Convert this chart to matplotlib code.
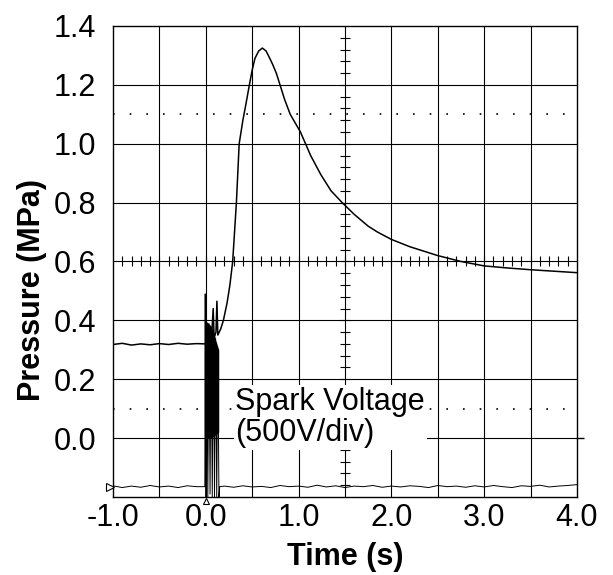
import numpy as np
import matplotlib
matplotlib.use("Agg")
import matplotlib.pyplot as plt

plt.rcParams['font.family'] = ['Liberation Sans', 'DejaVu Sans']

# pressure trace (MPa)
pres_t = [-1.0, -0.9, -0.8, -0.7, -0.6, -0.5, -0.4, -0.3, -0.2, -0.1, 0.0,
          0.03, 0.06, 0.08, 0.09, 0.11, 0.12, 0.13, 0.16, 0.19, 0.23, 0.26,
          0.29, 0.31, 0.33, 0.36, 0.40, 0.43, 0.47, 0.50, 0.53, 0.57, 0.61,
          0.65, 0.69, 0.72, 0.76, 0.80, 0.85, 0.91, 1.02, 1.13, 1.24, 1.35,
          1.47, 1.60, 1.75, 1.85, 2.0, 2.2, 2.5, 2.75, 3.0, 3.25, 3.5, 3.75, 4.0]
pres_v = [0.318, 0.322, 0.316, 0.320, 0.317, 0.321, 0.318, 0.322, 0.319, 0.321, 0.320,
          0.35, 0.33, 0.44, 0.34, 0.36, 0.465, 0.35, 0.37, 0.40, 0.46, 0.52,
          0.60, 0.70, 0.80, 1.00, 1.08, 1.13, 1.20, 1.25, 1.29, 1.315, 1.325,
          1.315, 1.29, 1.27, 1.24, 1.20, 1.15, 1.10, 1.04, 0.96, 0.895, 0.84,
          0.80, 0.76, 0.72, 0.70, 0.675, 0.65, 0.62, 0.60, 0.585, 0.578, 0.572, 0.567, 0.562]

# spark voltage trace (plotted in pressure units, 500 V/div)
spark_pre_v = [-0.162, -0.168, -0.163, -0.167, -0.161, -0.166, -0.163, -0.168, -0.162, -0.165]
burst_t = [-0.010, -0.006, -0.002, 0.010, 0.022, 0.034, 0.046, 0.058, 0.070,
           0.082, 0.094, 0.106, 0.118, 0.130, 0.142, 0.150]
burst_v = [-0.165, 0.49, -0.20, 0.38, -0.20, 0.39, -0.19, 0.36, -0.20,
           0.37, -0.20, 0.34, -0.20, 0.30, -0.20, -0.165]
spark_post_v = [-0.163, -0.167, -0.162, -0.166, -0.164, -0.168, -0.161, -0.165, -0.163, -0.167,
                -0.160, -0.166, -0.162, -0.168, -0.163, -0.165, -0.161, -0.167, -0.163, -0.166,
                -0.162, -0.164, -0.168, -0.161, -0.165, -0.163, -0.167, -0.162, -0.166, -0.161,
                -0.165, -0.168, -0.162, -0.164, -0.160, -0.166, -0.163, -0.161, -0.158]
# dense part of the discharge burst
block_t = [-0.005, 0.06, 0.14]
block_lo = [0.0, 0.0, 0.02]
block_hi = [0.40, 0.38, 0.30]

xtick_vals = [-1, 0, 1, 2, 3, 4]
xtick_labels = ["-1.0", "0.0", "1.0", "2.0", "3.0", "4.0"]
ytick_vals = [0.0, 0.2, 0.4, 0.6, 0.8, 1.0, 1.2, 1.4]
ytick_labels = ["0.0", "0.2", "0.4", "0.6", "0.8", "1.0", "1.2", "1.4"]

spark_t = list(np.round(np.arange(-1.0, -0.05, 0.1), 2)) + burst_t + \
          list(np.round(np.arange(0.2, 4.05, 0.1), 2))
spark_v = spark_pre_v + burst_v + spark_post_v

fig = plt.figure(figsize=(6.13, 5.75), dpi=100)
ax = fig.add_axes([0.1843, 0.1357, 0.7569, 0.8191])
ax.set_xlim(-1, 4)
ax.set_ylim(-0.2, 1.4)

# scope graticule
for gx in np.arange(-0.5, 4.0, 0.5):
    ax.axvline(gx, color='black', lw=0.8, zorder=1)
for gy in np.arange(0.0, 1.3, 0.2):
    ax.axhline(gy, color='black', lw=0.8, zorder=1)
for gy in [0.1, 1.1]:
    ax.axhline(gy, color='black', lw=1.2, ls=(0, (1, 9)), zorder=1)
ax.plot(np.arange(-0.9, 4.0, 0.1), np.full(49, 0.6), ls='none', marker='|',
        ms=7, mew=0.8, color='black', zorder=1)
ax.plot(np.full(39, 1.5), np.arange(-0.16, 1.4, 0.04), ls='none', marker='_',
        ms=7, mew=0.8, color='black', zorder=1)

ax.fill_between(block_t, block_lo, block_hi, color='black', lw=0, zorder=2)
ax.plot(spark_t, spark_v, color='black', lw=0.7, zorder=3)
ax.plot(pres_t, pres_v, color='black', lw=1.1, zorder=3)

ax.text(0.32, 0.07, "Spark Voltage\n(500V/div)", fontsize=22, ha='left', va='center',
        linespacing=1.05, zorder=4,
        bbox=dict(facecolor='white', edgecolor='none', pad=1))

# channel / trigger markers
ax.plot([-1.03], [-0.165], marker='>', ms=6, mfc='white', mec='black', mew=0.8,
        clip_on=False, zorder=5)
ax.plot([0.0], [-0.215], marker='^', ms=5, mfc='white', mec='black', mew=0.8,
        clip_on=False, zorder=5)
ax.plot([4.03], [0.0], marker='_', ms=6, mew=1, color='black', clip_on=False)

for s in ax.spines.values():
    s.set_linewidth(1.0)
ax.set_xticks(xtick_vals, xtick_labels)
ax.set_yticks(ytick_vals, ytick_labels)
ax.tick_params(axis='both', length=0, labelsize=22)
ax.tick_params(axis='y', pad=12)
ax.tick_params(axis='x', pad=4)

ax.set_xlabel("Time (s)", fontsize=22, fontweight='bold')
ax.set_ylabel("Pressure (MPa)", fontsize=22, fontweight='bold')
ax.xaxis.set_label_coords(0.5, -0.095)
ax.yaxis.set_label_coords(-0.143, 0.44)

fig.savefig("out.png", dpi=100)
